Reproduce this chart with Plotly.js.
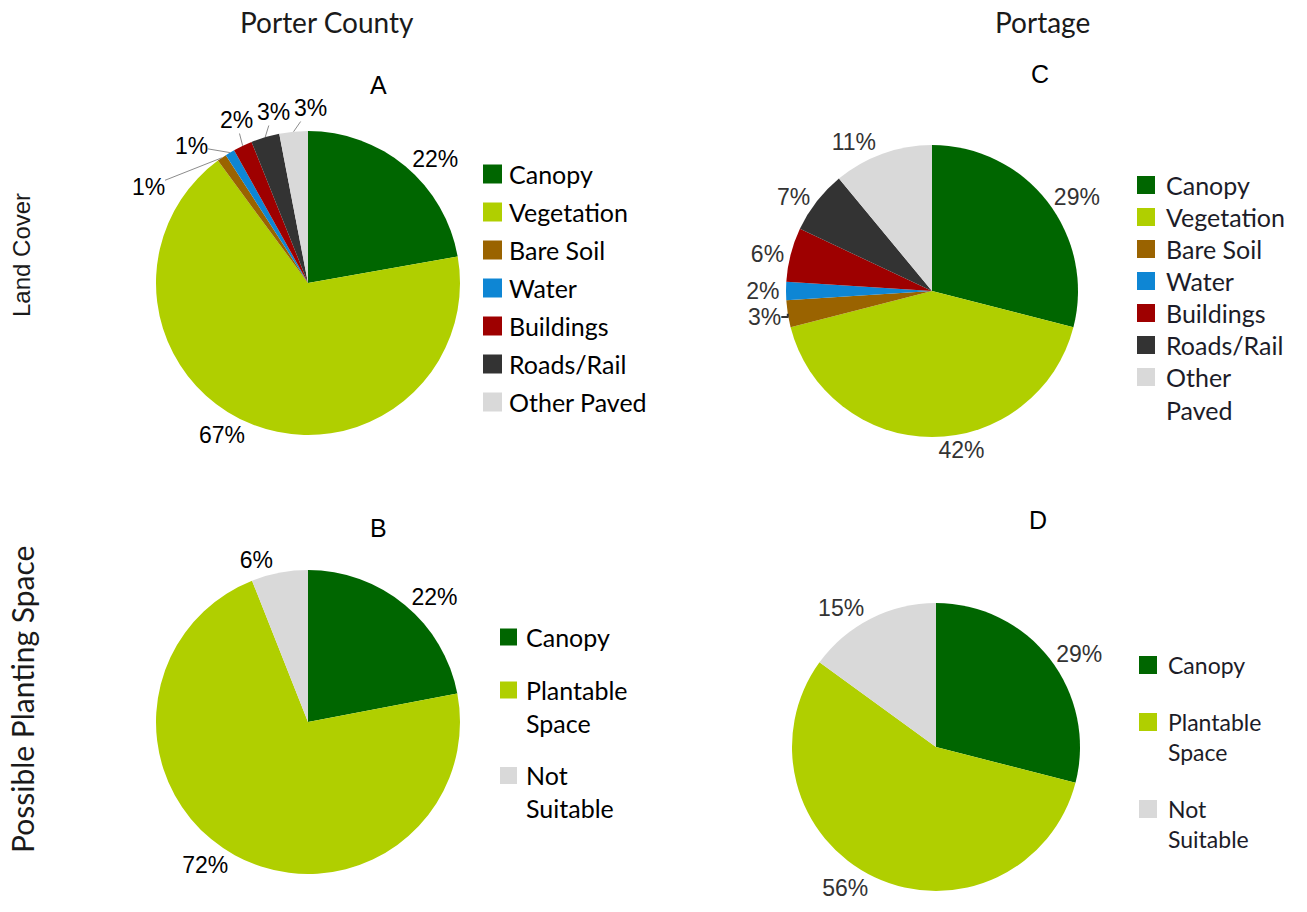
<!DOCTYPE html>
<html>
<head>
<meta charset="utf-8">
<script src="https://cdn.plot.ly/plotly-3.0.1.min.js"></script>
<style>html,body{margin:0;padding:0;background:#fff;}#chart{width:1307px;height:912px;}</style>
</head>
<body>
<div id="chart"></div>
<script>
// ---- data ----
const landLabels = ['Canopy', 'Vegetation', 'Bare Soil', 'Water', 'Buildings', 'Roads/Rail', 'Other Paved'];
const porterLand = [22, 67, 1, 1, 2, 3, 3];
const portageLand = [29, 42, 3, 2, 6, 7, 11];
const plantLabels = ['Canopy', 'Plantable Space', 'Not Suitable'];
const porterPlant = [22, 72, 6];
const portagePlant = [29, 56, 15];
const landColors = ['#006600', '#b0cf00', '#9a6300', '#0e86d4', '#9e0000', '#333333', '#d9d9d9'];
const plantColors = ['#006600', '#b0cf00', '#d9d9d9'];
const columnTitles = ['Porter County', 'Portage'];
const rowTitles = ['Land Cover', 'Possible Planting Space'];
const panelLetters = ['A', 'B', 'C', 'D'];

// ---- layout helpers ----
const W = 1307, H = 912;
const fx = v => v / W;
const fy = v => 1 - v / H;
const LATO = 'Lato, "Open Sans", sans-serif';
const ARIAL = '"Liberation Sans", Arial, sans-serif';

// label placement (layout only) for the crowded small slices of panel A: [slice index, label x, label y]
const panelACallouts = [[2, 148, 187], [3, 191, 146], [4, 236, 120], [5, 273, 112], [6, 310, 108]];

const panels = [
  {labels: landLabels, values: porterLand, colors: landColors, dom: [156, 460, 131, 435], txtColor: '#000',
   callouts: panelACallouts,
   letter: [378, 85], leg: {sq: 483, size: 19, tx: 508, y0: 174, lh: 32.5, gap: 5.5, fs: 25, wrap: false, color: '#000'}},
  {labels: plantLabels, values: porterPlant, colors: plantColors, dom: [156, 460, 570, 874], txtColor: '#000',
   callouts: [],
   letter: [379, 528], leg: {sq: 500, size: 17, tx: 525, y0: 637, lh: 32.5, gap: 20.5, fs: 25, wrap: true, color: '#000'}},
  {labels: landLabels, values: portageLand, colors: landColors, dom: [786, 1078, 145, 437], txtColor: '#333',
   callouts: [],
   letter: [1040, 74], leg: {sq: 1137, size: 18, tx: 1165, y0: 185, lh: 32, gap: 0, fs: 25, wrap: true, color: '#1c1c28'}},
  {labels: plantLabels, values: portagePlant, colors: plantColors, dom: [792, 1080, 603, 891], txtColor: '#333',
   callouts: [],
   letter: [1038, 520], leg: {sq: 1139, size: 18, tx: 1167, y0: 665, lh: 30, gap: 27, fs: 23, wrap: true, color: '#1c1c28'}}
];

const traces = [];
const annotations = [];
const shapes = [];

panels.forEach((p, i) => {
  const calloutIdx = p.callouts.map(c => c[0]);
  const positions = p.values.map((v, k) => calloutIdx.includes(k) ? 'none' : 'outside');
  traces.push({
    type: 'pie',
    labels: p.labels,
    values: p.values,
    sort: false,
    direction: 'clockwise',
    rotation: 0,
    marker: {colors: p.colors, line: {width: 0}},
    texttemplate: '%{value}%',
    textposition: positions,
    outsidetextfont: {family: ARIAL, size: 23, color: p.txtColor},
    hoverinfo: 'label+percent',
    showlegend: false,
    automargin: false,
    domain: {x: [fx(p.dom[0]), fx(p.dom[1])], y: [fy(p.dom[3]), fy(p.dom[2])]}
  });

  // callouts with leader lines for crowded slices (anchor point derived from the data)
  if (p.callouts.length) {
    const cx = (p.dom[0] + p.dom[1]) / 2, cy = (p.dom[2] + p.dom[3]) / 2, r = (p.dom[1] - p.dom[0]) / 2;
    const total = p.values.reduce((a, b) => a + b, 0);
    const cum = [];
    p.values.reduce((acc, v, k) => { cum[k] = acc; return acc + v; }, 0);
    p.callouts.forEach(([k, lx, ly]) => {
      const th = (cum[k] + p.values[k] / 2) / total * 2 * Math.PI;
      const tx = cx + r * Math.sin(th), ty = cy - r * Math.cos(th);
      annotations.push({
        text: p.values[k] + '%', xref: 'paper', yref: 'paper', x: fx(tx), y: fy(ty),
        ax: lx - tx, ay: ly - ty, showarrow: true, arrowhead: 0, arrowwidth: 1, arrowcolor: '#8c8c8c',
        standoff: 0, startstandoff: 0, borderpad: 0,
        font: {family: ARIAL, size: 23, color: p.txtColor}
      });
    });
  }

  // panel letter
  annotations.push({
    text: panelLetters[i], xref: 'paper', yref: 'paper', x: fx(p.letter[0]), y: fy(p.letter[1]),
    xanchor: 'center', yanchor: 'middle', showarrow: false,
    font: {family: ARIAL, size: 25, color: '#000'}
  });
  // legend
  const L = p.leg;
  let yc = L.y0;
  p.labels.forEach((lab, k) => {
    const txt = (L.wrap && lab.length > 10) ? lab.replace(' ', '<br>') : lab;
    const n = txt.split('<br>').length;
    shapes.push({
      type: 'rect', xref: 'paper', yref: 'paper',
      x0: fx(L.sq), x1: fx(L.sq + L.size), y0: fy(yc - L.size / 2), y1: fy(yc + L.size / 2),
      fillcolor: p.colors[k], line: {width: 0}
    });
    annotations.push({
      text: txt, xref: 'paper', yref: 'paper', x: fx(L.tx), y: fy(yc + (n - 1) * L.lh / 2),
      xanchor: 'left', yanchor: 'middle', align: 'left', showarrow: false, borderpad: 0,
      font: {family: LATO, size: L.fs, color: L.color}
    });
    yc += n * L.lh + L.gap;
  });
});

// column titles
[[327, 22], [1042, 22]].forEach((pos, i) => {
  annotations.push({
    text: columnTitles[i], xref: 'paper', yref: 'paper', x: fx(pos[0]), y: fy(pos[1]),
    xanchor: 'center', yanchor: 'middle', showarrow: false,
    font: {family: LATO, size: 28, color: '#1a1a1a'}
  });
});
// row titles
const rowFonts = [{family: ARIAL, size: 24, color: '#1a1a1a'}, {family: LATO, size: 30, color: '#1a1a1a'}];
[[22, 255], [22, 700]].forEach((pos, i) => {
  annotations.push({
    text: rowTitles[i], xref: 'paper', yref: 'paper', x: fx(pos[0]), y: fy(pos[1]),
    xanchor: 'center', yanchor: 'middle', showarrow: false, textangle: -90,
    font: rowFonts[i]
  });
});

const layout = {
  width: W, height: H,
  margin: {l: 0, r: 0, t: 0, b: 0},
  paper_bgcolor: '#fff',
  showlegend: false,
  annotations: annotations,
  shapes: shapes
};

Plotly.newPlot('chart', traces, layout, {displayModeBar: false, staticPlot: true});
</script>
</body>
</html>
